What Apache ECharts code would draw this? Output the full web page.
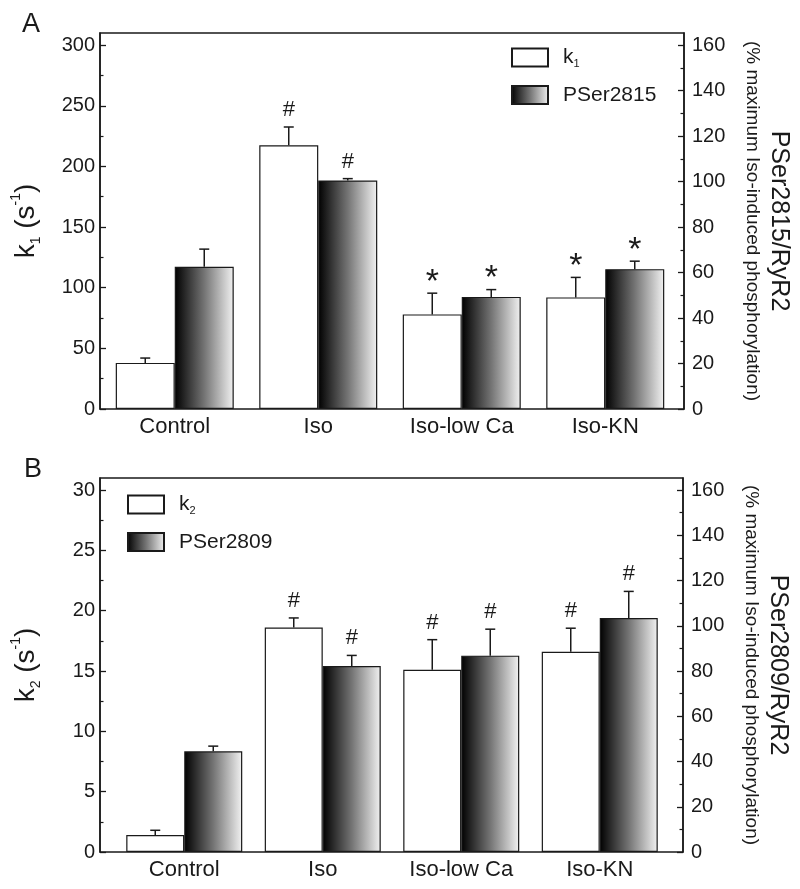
<!DOCTYPE html>
<html><head><meta charset="utf-8">
<script src="https://cdn.jsdelivr.net/npm/echarts@6/dist/echarts.min.js"></script>
<style>html,body{margin:0;padding:0;background:#fff}#c{width:800px;height:889px}</style>
</head><body><div id="c"></div>
<script>
const categories = ['Control', 'Iso', 'Iso-low Ca', 'Iso-KN'];
// Panel A
const k1Values = [38, 217.5, 78, 92];
const k1Errors = [4, 15, 17.5, 16.5];
const k1Marks = ['', '#', '*', '*'];
const pSer2815Values = [62.5, 100.5, 49.3, 61.5];
const pSer2815Errors = [7.8, 0.8, 3.2, 3.5];
const pSer2815Marks = ['', '#', '*', '*'];
// Panel B
const k2Values = [1.4, 18.6, 15.1, 16.6];
const k2Errors = [0.4, 0.8, 2.5, 1.95];
const k2Marks = ['', '#', '#', '#'];
const pSer2809Values = [44.5, 82.2, 86.8, 103.4];
const pSer2809Errors = [2.3, 4.7, 11.7, 11.8];
const pSer2809Marks = ['', '#', '#', '#'];
// Tick labels
const leftTicksA = [0, 50, 100, 150, 200, 250, 300];
const leftMinorA = [25, 75, 125, 175, 225, 275];
const leftTicksB = [0, 5, 10, 15, 20, 25, 30];
const leftMinorB = [2.5, 7.5, 12.5, 17.5, 22.5, 27.5];
const rightTicks = [0, 20, 40, 60, 80, 100, 120, 140, 160];
const rightMinor = [10, 30, 50, 70, 90, 110, 130, 150];

const FONT = '"Liberation Sans", Arial, Helvetica, sans-serif';
const INK = '#1a1a1a';
const LEFT_MAX_A = 310, LEFT_MAX_B = 31, RIGHT_MAX = 310 * 160 / 300;

const chart = echarts.init(document.getElementById('c'), null, {renderer: 'canvas'});

function grad() {
  return new echarts.graphic.LinearGradient(0, 0, 1, 0, [
    {offset: 0, color: '#000000'},
    {offset: 0.5, color: '#747474'},
    {offset: 1, color: '#f2f2f2'}
  ]);
}

function frameY(grid, pos, max, ticks, name, nameGap, rotate, rich) {
  return {
    type: 'value', gridIndex: grid, position: pos, min: 0, max: max,
    axisLine: {show: true, lineStyle: {color: INK, width: 1.5}},
    axisTick: {show: true, inside: true, length: 6, lineStyle: {color: INK, width: 1.3}, customValues: ticks},
    axisLabel: {customValues: ticks, fontSize: 20, color: INK, fontFamily: FONT, margin: pos === 'left' ? 5 : 8},
    splitLine: {show: false},
    name: name, nameLocation: 'middle', nameGap: nameGap, nameRotate: rotate,
    nameTextStyle: {fontFamily: FONT, color: INK, rich: rich}
  };
}
function minorY(grid, pos, max, ticks) {
  return {
    type: 'value', gridIndex: grid, position: pos, min: 0, max: max,
    axisLine: {show: false},
    axisTick: {show: true, inside: true, length: 3.5, lineStyle: {color: INK, width: 1.2}, customValues: ticks},
    axisLabel: {show: false}, splitLine: {show: false}
  };
}
function hiddenY(grid, max) {
  return {type: 'value', gridIndex: grid, min: 0, max: max, show: false, splitLine: {show: false}};
}

const leftRich = {
  t: {fontSize: 28, lineHeight: 34, fontFamily: FONT, color: INK},
  sub: {fontSize: 14, lineHeight: 14, verticalAlign: 'bottom', fontFamily: FONT, color: INK},
  sup: {fontSize: 14, lineHeight: 14, verticalAlign: 'top', fontFamily: FONT, color: INK}
};
const rightRich = {
  a: {fontSize: 25, lineHeight: 30, fontFamily: FONT, color: INK},
  b: {fontSize: 19, lineHeight: 24, fontFamily: FONT, color: INK}
};

function errSeries(xIdx, yIdx, vals, errs, marks, side, bw) {
  return {
    type: 'custom', xAxisIndex: xIdx, yAxisIndex: yIdx, z: 5, silent: true,
    data: vals.map((v, i) => [i, v, errs[i]]),
    encode: {x: 0, y: 1},
    renderItem(params, api) {
      const i = api.value(0), v = api.value(1), e = api.value(2);
      const base = api.coord([i, v]);
      const top = api.coord([i, v + e]);
      const x = base[0] + side * bw / 2;
      const children = [
        {type: 'line', shape: {x1: x, y1: base[1], x2: x, y2: top[1]}, style: {stroke: INK, lineWidth: 1.5}},
        {type: 'line', shape: {x1: x - 5, y1: top[1], x2: x + 5, y2: top[1]}, style: {stroke: INK, lineWidth: 1.5}}
      ];
      const m = marks[params.dataIndex];
      if (m) {
        const star = m === '*';
        children.push({type: 'text', x: x, y: top[1] - (star ? 11 : 17),
          style: {text: m, fill: INK, fontFamily: FONT, fontSize: star ? 34 : 22, align: 'center', verticalAlign: 'middle'}});
      }
      return {type: 'group', children: children};
    }
  };
}

const BW_A = 59, BW_B = 58;
const whiteStyle = {color: '#ffffff', borderColor: INK, borderWidth: 1.2};
const gradStyle = {color: grad(), borderColor: INK, borderWidth: 1.2};

const legendText = {
  fontSize: 21, fontFamily: FONT, color: INK, padding: [0, 0, 0, 10],
  rich: {
    k: {fontSize: 21, lineHeight: 24, fontFamily: FONT, color: INK},
    s: {fontSize: 11, lineHeight: 11, verticalAlign: 'bottom', fontFamily: FONT, color: INK}
  }
};
const legendFmt = n => (n === 'k1' ? '{k|k}{s|1}' : n === 'k2' ? '{k|k}{s|2}' : n);

const option = {
  backgroundColor: '#ffffff',
  animation: false,
  title: [
    {text: 'A', left: 22, top: 11, padding: 0, textStyle: {fontSize: 27, fontWeight: 'normal', color: INK, fontFamily: FONT}},
    {text: 'B', left: 24, top: 456, padding: 0, textStyle: {fontSize: 27, fontWeight: 'normal', color: INK, fontFamily: FONT}}
  ],
  legend: [
    {data: ['k1', 'PSer2815'], orient: 'vertical', left: 506, top: 42, itemWidth: 36, itemHeight: 18, itemGap: 15,
      icon: 'rect', formatter: legendFmt, textStyle: legendText, selectedMode: false},
    {data: ['k2', 'PSer2809'], orient: 'vertical', left: 122, top: 489, itemWidth: 36, itemHeight: 18, itemGap: 15,
      icon: 'rect', formatter: legendFmt, textStyle: legendText, selectedMode: false}
  ],
  grid: [
    {left: 100, right: 116, top: 33, bottom: 480, show: true, borderColor: INK, borderWidth: 1.5, backgroundColor: 'transparent'},
    {left: 103, right: 123, top: 33, bottom: 480},
    {left: 100, right: 117, top: 478, bottom: 37, show: true, borderColor: INK, borderWidth: 1.5, backgroundColor: 'transparent'},
    {left: 115, right: 131, top: 478, bottom: 37}
  ],
  xAxis: [
    {type: 'value', gridIndex: 0, min: 0, max: 1, show: false},
    {type: 'category', gridIndex: 1, data: categories, axisLine: {show: false}, axisTick: {show: false},
      axisLabel: {fontSize: 22, color: INK, fontFamily: FONT, margin: 7}},
    {type: 'value', gridIndex: 2, min: 0, max: 1, show: false},
    {type: 'category', gridIndex: 3, data: categories, axisLine: {show: false}, axisTick: {show: false},
      axisLabel: {fontSize: 22, color: INK, fontFamily: FONT, margin: 7}}
  ],
  yAxis: [
    frameY(0, 'left', LEFT_MAX_A, leftTicksA, '{t|k}{sub|1}{t| (s}{sup|-1}{t|)}', 57, 90, leftRich),
    minorY(0, 'left', LEFT_MAX_A, leftMinorA),
    frameY(0, 'right', RIGHT_MAX, rightTicks, '{a|PSer2815/RyR2}\n{b|(% maximum Iso-induced phosphorylation)}', 56, -90, rightRich),
    minorY(0, 'right', RIGHT_MAX, rightMinor),
    hiddenY(1, LEFT_MAX_A),
    hiddenY(1, RIGHT_MAX),
    frameY(2, 'left', LEFT_MAX_B, leftTicksB, '{t|k}{sub|2}{t| (s}{sup|-1}{t|)}', 57, 90, leftRich),
    minorY(2, 'left', LEFT_MAX_B, leftMinorB),
    frameY(2, 'right', RIGHT_MAX, rightTicks, '{a|PSer2809/RyR2}\n{b|(% maximum Iso-induced phosphorylation)}', 56, -90, rightRich),
    minorY(2, 'right', RIGHT_MAX, rightMinor),
    hiddenY(3, LEFT_MAX_B),
    hiddenY(3, RIGHT_MAX)
  ],
  series: [
    {type: 'bar', name: 'k1', xAxisIndex: 1, yAxisIndex: 4, data: k1Values, barWidth: BW_A, barGap: '0%', itemStyle: whiteStyle},
    {type: 'bar', name: 'PSer2815', xAxisIndex: 1, yAxisIndex: 5, data: pSer2815Values, barWidth: BW_A, barGap: '0%', itemStyle: gradStyle},
    errSeries(1, 4, k1Values, k1Errors, k1Marks, -1, BW_A),
    errSeries(1, 5, pSer2815Values, pSer2815Errors, pSer2815Marks, 1, BW_A),
    {type: 'bar', name: 'k2', xAxisIndex: 3, yAxisIndex: 10, data: k2Values, barWidth: BW_B, barGap: '0%', itemStyle: whiteStyle},
    {type: 'bar', name: 'PSer2809', xAxisIndex: 3, yAxisIndex: 11, data: pSer2809Values, barWidth: BW_B, barGap: '0%', itemStyle: gradStyle},
    errSeries(3, 10, k2Values, k2Errors, k2Marks, -1, BW_B),
    errSeries(3, 11, pSer2809Values, pSer2809Errors, pSer2809Marks, 1, BW_B)
  ]
};
chart.setOption(option);
</script>
</body></html>
